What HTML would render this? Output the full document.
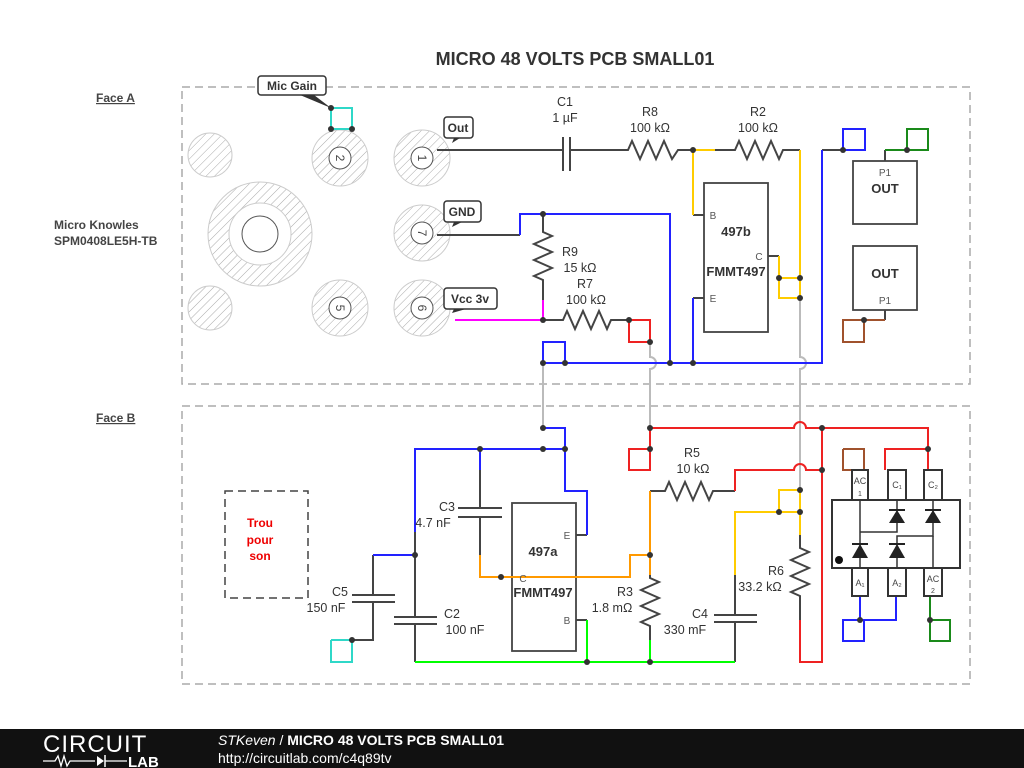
<!DOCTYPE html>
<html><head><meta charset="utf-8"><style>body{margin:0;background:#fff}svg{display:block}text{font-family:"Liberation Sans",sans-serif}</style></head><body>
<svg width="1024" height="768" viewBox="0 0 1024 768" xmlns="http://www.w3.org/2000/svg">
<defs>
<pattern id="h" width="6" height="6" patternUnits="userSpaceOnUse" patternTransform="rotate(45)"><line x1="0" y1="0" x2="0" y2="6" stroke="#aaa" stroke-width="1"/></pattern>
</defs>
<rect width="1024" height="768" fill="#fff"/>
<text x="575" y="65" font-size="18" font-weight="bold" fill="#333" text-anchor="middle">MICRO 48 VOLTS PCB SMALL01</text>
<g fill="none" stroke="#aaa" stroke-width="1.5" stroke-dasharray="8,5">
<rect x="182" y="87" width="788" height="297"/>
<rect x="182" y="406" width="788" height="278"/>
<rect x="225" y="491" width="83" height="107" stroke="#444"/>
</g>
<g font-size="12" font-weight="bold" fill="#444" text-decoration="underline"><text x="96" y="102">Face A</text><text x="96" y="422">Face B</text></g>
<g font-size="12" font-weight="bold" fill="#444"><text x="54" y="229">Micro Knowles</text><text x="54" y="245">SPM0408LE5H-TB</text></g>
<g font-size="12" font-weight="bold" fill="#e00" text-anchor="middle"><text x="260" y="527">Trou</text><text x="260" y="544">pour</text><text x="260" y="560">son</text></g>
<g stroke="#ccc" stroke-width="1" fill="url(#h)">
<circle cx="210" cy="155" r="22"/><circle cx="210" cy="308" r="22"/>
<circle cx="340" cy="158" r="28"/><circle cx="422" cy="158" r="28"/>
<circle cx="422" cy="233" r="28"/><circle cx="340" cy="308" r="28"/><circle cx="422" cy="308" r="28"/>
<circle cx="260" cy="234" r="52"/>
</g>
<g stroke="#ccc" fill="#fff"><circle cx="260" cy="234" r="31"/></g>
<g stroke="#555" fill="#fff" stroke-width="1"><circle cx="260" cy="234" r="18"/>
<circle cx="340" cy="158" r="11"/><circle cx="422" cy="158" r="11"/><circle cx="422" cy="233" r="11"/><circle cx="340" cy="308" r="11"/><circle cx="422" cy="308" r="11"/></g>
<g font-size="12" fill="#444" text-anchor="middle">
<text transform="translate(340,158) rotate(90)" y="4">2</text><text transform="translate(422,158) rotate(90)" y="4">1</text><text transform="translate(422,233) rotate(90)" y="4">7</text><text transform="translate(340,308) rotate(90)" y="4">5</text><text transform="translate(422,308) rotate(90)" y="4">6</text></g>
<g fill="#fff" stroke="#333" stroke-width="1.5">
<rect x="258" y="76" width="68" height="19" rx="3"/><rect x="444" y="117" width="29" height="21" rx="3"/><rect x="444" y="201" width="37" height="21" rx="3"/><rect x="444" y="288" width="53" height="21" rx="3"/></g>
<g fill="#333"><polygon points="300,95 314,95 331,108"/><polygon points="454,138 460,138 452,143"/><polygon points="454,222 462,222 452,227"/><polygon points="454,309 466,309 452,313"/></g>
<g font-size="12" font-weight="bold" fill="#333" text-anchor="middle"><text x="292" y="90">Mic Gain</text><text x="458" y="132">Out</text><text x="462" y="216">GND</text><text x="470" y="303">Vcc 3v</text></g>
<g fill="none" stroke-width="2" stroke-linejoin="miter">
<g stroke="#444">
<polyline points="437,150 563,150"/><line x1="563" y1="137" x2="563" y2="171"/><line x1="570" y1="137" x2="570" y2="171"/>
<polyline points="570,150 628,150 632,141 640,159 648,141 656,159 664,141 672,159 678,150 693,150"/>
<polyline points="715,150 735,150 739,141 747,159 755,141 763,159 771,141 779,159 783,150 800,150"/>
<line x1="693" y1="150" x2="715" y2="150" stroke="#fc0"/>
<rect x="704" y="183" width="64" height="149" stroke-width="1.8"/>
<polyline points="693,215 704,215"/><polyline points="693,298 704,298"/><polyline points="768,256 779,256"/>
<polyline points="437,235 520,235"/>
<polyline points="543,214 543,232 552,236 534,244 552,252 534,260 552,268 534,276 543,280 543,300"/>
<polyline points="543,320 563,320 567,311 575,329 583,311 591,329 599,311 607,329 611,320 629,320"/>
<polyline points="822,150 843,150"/>
<rect x="853" y="161" width="64" height="63" stroke-width="1.8"/><rect x="853" y="246" width="64" height="64" stroke-width="1.8"/>
<line x1="885" y1="161" x2="885" y2="150"/><line x1="885" y1="310" x2="885" y2="320"/>
</g>
<g stroke="#fc0"><polyline points="693,150 693,215"/><polyline points="800,150 800,298"/><polyline points="779,256 779,298 800,298"/><line x1="779" y1="278" x2="800" y2="278"/></g>
<g stroke="#bbb"><path d="M800,298 V357 a6,6 0 0 1 0,12 V490"/><path d="M650,342 V357 a6,6 0 0 1 0,12 V428"/><line x1="543" y1="363" x2="543" y2="428"/></g>
<g stroke="#ff00ff"><polyline points="455,320 543,320 543,300"/></g>
<g stroke="#22f"><polyline points="520,235 520,214 670,214 670,363"/><polyline points="693,298 693,363"/><polyline points="543,363 822,363 822,150"/><polyline points="543,363 543,342 565,342 565,363"/><polyline points="843,150 865,150 865,129 843,129 843,150"/></g>
<g stroke="#e22"><polyline points="629,320 650,320 650,342 629,342 629,320"/></g>
<g stroke="#2fd8c8"><polyline points="331,108 352,108 352,129 331,129 331,108"/><polyline points="331,640 352,640 352,662 331,662 331,640"/></g>
<g stroke="#1a8a1a"><polyline points="885,150 928,150 928,129 907,129 907,150"/><polyline points="930,596 930,620 950,620 950,641 930,641 930,620"/></g>
<g stroke="#a0522d"><polyline points="885,320 843,320 843,342 864,342 864,320"/><polyline points="843,449 864,449 864,470 843,470 843,449"/></g>
<g stroke="#444">
<rect x="512" y="503" width="64" height="148" stroke-width="1.8"/>
<line x1="576" y1="535" x2="587" y2="535"/><line x1="576" y1="620" x2="587" y2="620"/>
<polyline points="480,470 480,508"/><line x1="458" y1="508" x2="502" y2="508"/><line x1="458" y1="517" x2="502" y2="517"/><polyline points="480,517 480,555"/>
<polyline points="415,532 415,617"/><line x1="394" y1="617" x2="437" y2="617"/><line x1="394" y1="624" x2="437" y2="624"/><line x1="415" y1="624" x2="415" y2="662"/>
<polyline points="373,555 373,595"/><line x1="352" y1="595" x2="395" y2="595"/><line x1="352" y1="602" x2="395" y2="602"/><polyline points="373,602 373,640 352,640"/>
<polyline points="650,491 665,491 669,482 677,500 685,482 693,500 701,482 709,500 713,491 735,491"/>
<polyline points="650,575 650,578 659,582 641,590 659,598 641,606 659,614 641,622 650,626 650,640"/>
<polyline points="735,575 735,615"/><line x1="714" y1="615" x2="757" y2="615"/><line x1="714" y1="622" x2="757" y2="622"/><line x1="735" y1="622" x2="735" y2="662"/>
<polyline points="800,535 800,548 809,552 791,560 809,568 791,576 809,584 791,592 800,596 800,620"/>
</g>
<g stroke="#22f"><polyline points="543,428 565,428 565,449"/><polyline points="415,532 415,449 565,449 565,491 587,491 587,535"/><polyline points="480,449 480,470"/><polyline points="415,555 373,555"/><polyline points="860,596 860,620 843,620 843,641 864,641 864,620"/><polyline points="896,596 896,620 860,620"/></g>
<g stroke="#0f0"><polyline points="415,662 735,662"/><polyline points="587,620 587,662"/><line x1="650" y1="640" x2="650" y2="662"/></g>
<g stroke="#f90"><polyline points="480,555 480,577 630,577 630,555 650,555 650,575"/><polyline points="650,555 650,491"/></g>
<g stroke="#fc0"><polyline points="800,490 800,535"/><polyline points="800,490 779,490 779,512 800,512"/><polyline points="779,512 735,512 735,575"/></g>
<g stroke="#e22"><path d="M650,428 H794 a6,6 0 0 1 12,0 H928 V470"/><polyline points="650,428 650,470 629,470 629,449 650,449"/><path d="M735,491 V470 H794 a6,6 0 0 1 12,0 H822"/><polyline points="822,428 822,662 800,662 800,620"/><polyline points="928,449 885,449 885,470"/></g>
<g stroke="#333">
<rect x="832" y="500" width="128" height="68"/>
<rect x="852" y="470" width="16" height="30"/><rect x="888" y="470" width="18" height="30"/><rect x="924" y="470" width="18" height="30"/>
<rect x="852" y="568" width="16" height="28"/><rect x="888" y="568" width="18" height="28"/><rect x="924" y="568" width="18" height="28"/>
<polyline points="860,500 860,568" stroke-width="1.5"/><polyline points="897,500 897,532 860,532" stroke-width="1.5"/><polyline points="933,500 933,536 897,536 897,568" stroke-width="1.5"/><polyline points="933,536 933,568" stroke-width="1.5"/>
</g>
</g>
<g fill="#222"><polygon points="852,558 868,558 860,544"/><polygon points="889,558 905,558 897,544"/><polygon points="889,523 905,523 897,510"/><polygon points="925,523 941,523 933,510"/></g>
<g stroke="#222" stroke-width="2"><line x1="852" y1="544" x2="868" y2="544"/><line x1="889" y1="544" x2="905" y2="544"/><line x1="889" y1="510" x2="905" y2="510"/><line x1="925" y1="510" x2="941" y2="510"/></g>
<circle cx="839" cy="560" r="4" fill="#111"/>
<g font-size="9" fill="#444" text-anchor="middle"><text x="860" y="484">AC</text><text x="860" y="496" font-size="7">1</text><text x="897" y="488">C₁</text><text x="933" y="488">C₂</text><text x="860" y="586">A₁</text><text x="897" y="586">A₂</text><text x="933" y="582">AC</text><text x="933" y="593" font-size="7">2</text></g>
<g fill="#333">
<circle cx="331" cy="108" r="3"/><circle cx="331" cy="129" r="3"/><circle cx="352" cy="129" r="3"/>
<circle cx="693" cy="150" r="3"/><circle cx="543" cy="214" r="3"/><circle cx="543" cy="320" r="3"/><circle cx="629" cy="320" r="3"/><circle cx="650" cy="342" r="3"/>
<circle cx="779" cy="278" r="3"/><circle cx="800" cy="278" r="3"/><circle cx="800" cy="298" r="3"/>
<circle cx="543" cy="363" r="3"/><circle cx="565" cy="363" r="3"/><circle cx="670" cy="363" r="3"/><circle cx="693" cy="363" r="3"/>
<circle cx="843" cy="150" r="3"/><circle cx="907" cy="150" r="3"/><circle cx="864" cy="320" r="3"/>
<circle cx="543" cy="428" r="3"/><circle cx="480" cy="449" r="3"/><circle cx="543" cy="449" r="3"/><circle cx="565" cy="449" r="3"/><circle cx="415" cy="555" r="3"/><circle cx="501" cy="577" r="3"/><circle cx="352" cy="640" r="3"/>
<circle cx="587" cy="662" r="3"/><circle cx="650" cy="662" r="3"/><circle cx="650" cy="555" r="3"/>
<circle cx="650" cy="428" r="3"/><circle cx="650" cy="449" r="3"/><circle cx="822" cy="428" r="3"/><circle cx="822" cy="470" r="3"/><circle cx="928" cy="449" r="3"/>
<circle cx="800" cy="490" r="3"/><circle cx="779" cy="512" r="3"/><circle cx="800" cy="512" r="3"/>
<circle cx="860" cy="620" r="3"/><circle cx="930" cy="620" r="3"/>
</g>
<g font-size="12.5" fill="#333" text-anchor="middle">
<text x="565" y="106">C1</text><text x="565" y="122">1 µF</text>
<text x="650" y="116">R8</text><text x="650" y="132">100 kΩ</text>
<text x="758" y="116">R2</text><text x="758" y="132">100 kΩ</text>
<text x="570" y="256">R9</text><text x="580" y="272">15 kΩ</text><text x="585" y="288">R7</text><text x="586" y="304">100 kΩ</text>
<text x="447" y="511">C3</text><text x="433" y="527">4.7 nF</text>
<text x="340" y="596">C5</text><text x="326" y="612">150 nF</text>
<text x="452" y="618">C2</text><text x="465" y="634">100 nF</text>
<text x="625" y="596">R3</text><text x="612" y="612">1.8 mΩ</text>
<text x="700" y="618">C4</text><text x="685" y="634">330 mF</text>
<text x="692" y="457">R5</text><text x="693" y="473">10 kΩ</text>
<text x="776" y="575">R6</text><text x="760" y="591">33.2 kΩ</text>
</g>
<g font-size="10" fill="#555" text-anchor="middle"><text x="713" y="219">B</text><text x="759" y="260">C</text><text x="713" y="302">E</text><text x="567" y="539">E</text><text x="523" y="582">C</text><text x="567" y="624">B</text><text x="885" y="176">P1</text><text x="885" y="304">P1</text></g>
<g font-size="13" font-weight="bold" fill="#333" text-anchor="middle"><text x="736" y="236">497b</text><text x="736" y="276">FMMT497</text><text x="543" y="556">497a</text><text x="543" y="597">FMMT497</text><text x="885" y="193">OUT</text><text x="885" y="278">OUT</text></g>
<rect x="0" y="729" width="1024" height="39" fill="#111"/>
<text x="43" y="752" font-size="24" fill="#fff" letter-spacing="1">CIRCUIT</text>
<polyline points="43,761 55,761 58,756 61,766 64,756 67,766 70,761 95,761" fill="none" stroke="#fff" stroke-width="1.3"/>
<polygon points="97,756 97,766 104,761" fill="#fff"/><line x1="105" y1="755" x2="105" y2="767" stroke="#fff" stroke-width="1.5"/><line x1="105" y1="761" x2="127" y2="761" stroke="#fff" stroke-width="1.3"/>
<text x="128" y="767" font-size="15" font-weight="bold" fill="#fff">LAB</text>
<text x="218" y="745" font-size="14" fill="#fff"><tspan font-style="italic">STKeven</tspan> / <tspan font-weight="bold">MICRO 48 VOLTS PCB SMALL01</tspan></text>
<text x="218" y="763" font-size="14" fill="#fff">http://circuitlab.com/c4q89tv</text>
</svg>
</body></html>
